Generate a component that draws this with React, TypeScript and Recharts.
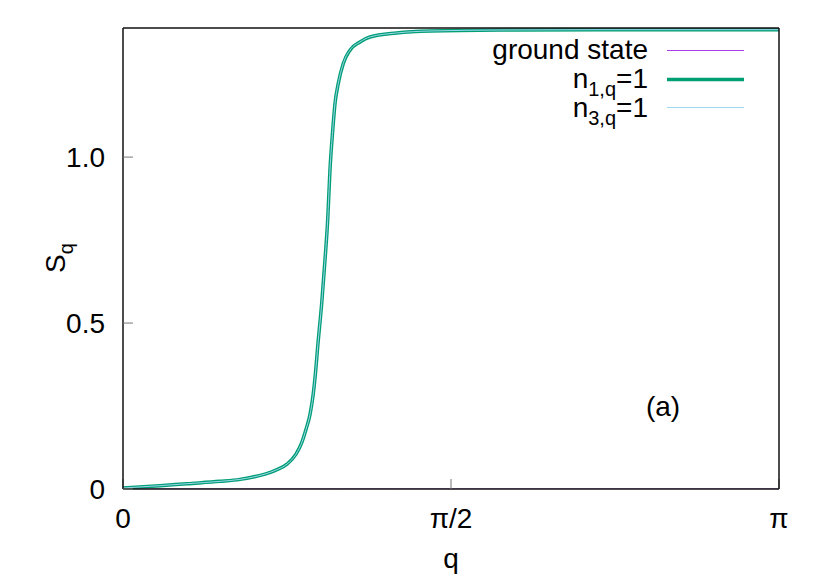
import React from 'react';
import { LineChart, Line, XAxis, YAxis } from 'recharts';

// q values as fractions of pi
const qOverPi = [0, 0.0564, 0.0976, 0.1479, 0.1784, 0.1982, 0.2165, 0.2332, 0.25, 0.2637, 0.2729, 0.279, 0.2851, 0.2896, 0.2927, 0.2973, 0.3029, 0.3079, 0.312, 0.3155, 0.3197, 0.3232, 0.3282, 0.3358, 0.346, 0.3613, 0.3765, 0.4172, 0.468, 0.5747, 0.7271, 1.0];
const groundState = [0, 0, 0, 0, 0, 0, 0, 0, 0, 0, 0, 0, 0, 0, 0, 0, 0, 0, 0, 0, 0, 0, 0, 0, 0, 0, 0, 0, 0, 0, 0, 0];
const n1q = [0.003, 0.01, 0.016, 0.023, 0.029, 0.036, 0.045, 0.057, 0.075, 0.105, 0.142, 0.18, 0.225, 0.28, 0.335, 0.44, 0.559, 0.69, 0.81, 0.961, 1.081, 1.162, 1.222, 1.282, 1.322, 1.347, 1.362, 1.374, 1.38, 1.383, 1.384, 1.384];
const n3q = [0.003, 0.01, 0.016, 0.023, 0.029, 0.036, 0.045, 0.057, 0.075, 0.105, 0.142, 0.18, 0.225, 0.28, 0.335, 0.44, 0.559, 0.69, 0.81, 0.961, 1.081, 1.162, 1.222, 1.282, 1.322, 1.347, 1.362, 1.374, 1.38, 1.383, 1.384, 1.384];

const xTickValues = [0, Math.PI / 2, Math.PI];
const xTickLabels = ['0', 'π/2', 'π'];
const yTickValues = [0, 0.5, 1.0];
const yTickLabels = ['0', '0.5', '1.0'];
const yMax = 1.389;

const data = qOverPi.map((f, i) => ({
  q: f * Math.PI,
  gs: groundState[i],
  n1: n1q[i],
  n3: n3q[i],
}));

const FONT = '"Liberation Sans", Arial, Helvetica, sans-serif';
const PURPLE = '#a83ee8';
const GREEN = '#009e73';
const SKY = '#9fd6f0';
const BORDER = '#111';

const fmtX = (v: number) => {
  const i = xTickValues.findIndex((t) => Math.abs(t - v) < 1e-6);
  return i >= 0 ? xTickLabels[i] : '';
};
const fmtY = (v: number) => {
  const i = yTickValues.findIndex((t) => Math.abs(t - v) < 1e-6);
  return i >= 0 ? yTickLabels[i] : '';
};

export default function App() {
  const tickStyle = { fill: '#000', fontSize: 28, fontFamily: FONT };
  const axisLine = { stroke: BORDER, strokeWidth: 1.5 };
  const tickLine = { stroke: '#777', strokeWidth: 1 };
  return (
    <div style={{ position: 'absolute', left: 0, top: 0, width: 830, height: 581, background: '#fff' }}>
      <LineChart width={830} height={581} data={data} margin={{ top: 27, right: 50, bottom: 32, left: 0 }}>
        <XAxis
          dataKey="q"
          type="number"
          domain={[0, Math.PI]}
          ticks={xTickValues}
          tickFormatter={fmtX}
          height={60}
          tickSize={-10}
          tickMargin={29}
          tick={tickStyle}
          stroke={BORDER}
          axisLine={axisLine}
          tickLine={tickLine}
          allowDataOverflow
        />
        <XAxis
          xAxisId="top"
          orientation="top"
          dataKey="q"
          type="number"
          domain={[0, Math.PI]}
          ticks={xTickValues}
          height={1}
          tickSize={-10}
          tick={false}
          stroke={BORDER}
          axisLine={axisLine}
          tickLine={tickLine}
          allowDataOverflow
        />
        <YAxis
          type="number"
          domain={[0, yMax]}
          ticks={yTickValues}
          tickFormatter={fmtY}
          width={123}
          tickSize={-10}
          tickMargin={28}
          tick={tickStyle}
          stroke={BORDER}
          axisLine={axisLine}
          tickLine={tickLine}
          allowDataOverflow
        />
        <YAxis
          yAxisId="right"
          orientation="right"
          type="number"
          domain={[0, yMax]}
          ticks={yTickValues}
          width={1}
          tickSize={-10}
          tick={false}
          stroke={BORDER}
          axisLine={axisLine}
          tickLine={tickLine}
          allowDataOverflow
        />
        <Line dataKey="gs" type="monotone" stroke={PURPLE} strokeWidth={1} dot={false} isAnimationActive={false} />
        <Line dataKey="n1" type="monotone" stroke={GREEN} strokeWidth={3.5} dot={false} isAnimationActive={false} />
        <Line dataKey="n3" type="monotone" stroke={SKY} strokeWidth={1} dot={false} isAnimationActive={false} />
      </LineChart>
      <svg
        width={830}
        height={581}
        style={{ position: 'absolute', left: 0, top: 0, pointerEvents: 'none' }}
        fontFamily={FONT}
        fontSize={28}
      >
        <text x={648} y={59} textAnchor="end" fill="#000">ground state</text>
        <line x1={667} x2={744} y1={50.5} y2={50.5} stroke={PURPLE} strokeWidth={1} />
        <text x={648} y={88} textAnchor="end" fill="#000">
          n<tspan fontSize={20} dy={8}>1,q</tspan><tspan dy={-8}>=1</tspan>
        </text>
        <line x1={667} x2={744} y1={79.5} y2={79.5} stroke={GREEN} strokeWidth={3.5} />
        <text x={648} y={117} textAnchor="end" fill="#000">
          n<tspan fontSize={20} dy={8}>3,q</tspan><tspan dy={-8}>=1</tspan>
        </text>
        <line x1={667} x2={744} y1={107.5} y2={107.5} stroke={SKY} strokeWidth={1} />
        <text x={663} y={416} textAnchor="middle" fill="#000">(a)</text>
        <text x={451} y={568} textAnchor="middle" fill="#000">q</text>
        <text x={65} y={258} transform="rotate(-90 65 258)" textAnchor="middle" fill="#000">
          S<tspan fontSize={20} dy={8}>q</tspan>
        </text>
      </svg>
    </div>
  );
}
